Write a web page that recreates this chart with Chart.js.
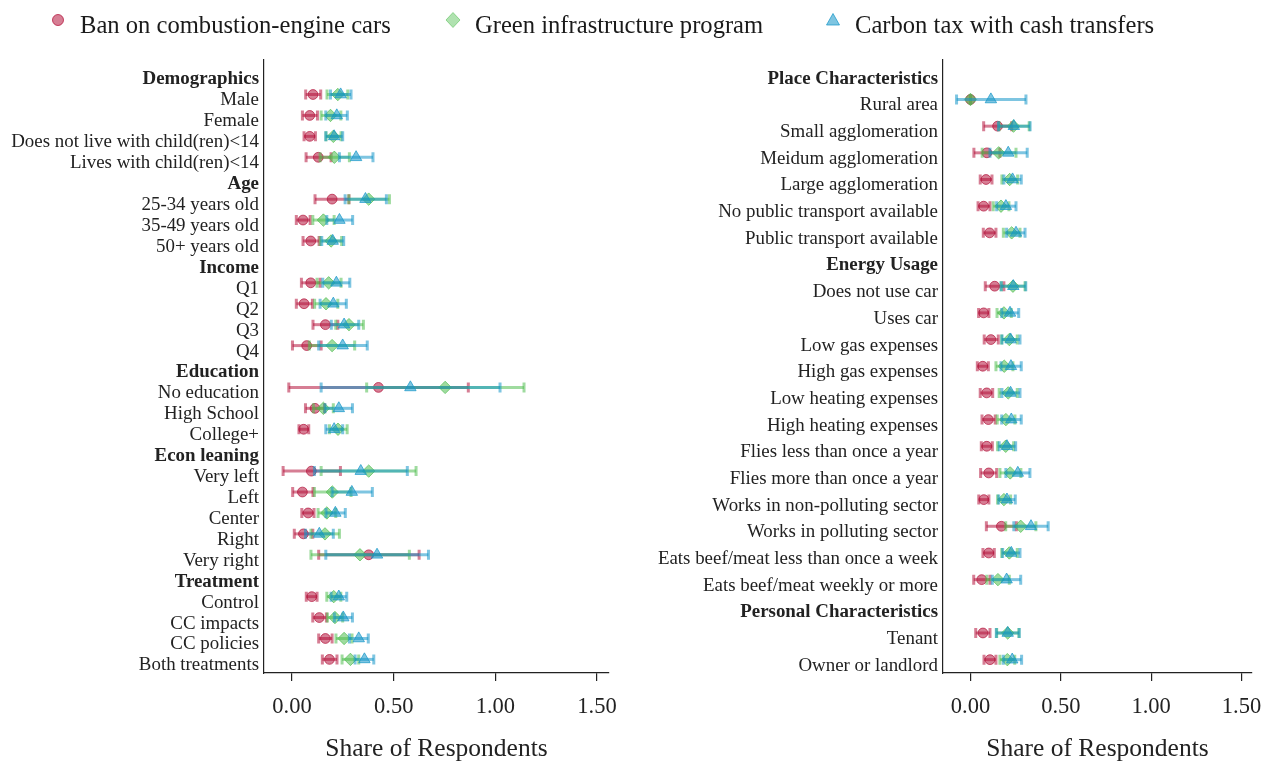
<!DOCTYPE html>
<html>
<head>
<meta charset="utf-8">
<title>Share of Respondents by group</title>
<script src="https://cdn.jsdelivr.net/npm/chart.js@4.4.1/dist/chart.umd.min.js"></script>
<style>
  html, body { margin: 0; padding: 0; background: #ffffff; }
  #figure { position: relative; width: 1262px; height: 762px; overflow: hidden; }
  .panel { position: absolute; top: 0; height: 762px; }
  #legend { position: absolute; left: 0; top: 0; width: 1262px; height: 50px; z-index: 2;
            font-family: 'Liberation Serif', 'Times New Roman', serif; font-size: 24.6px; color: #1a1a1a; }
  .key { position: absolute; top: 6px; height: 36px; }
  .key svg { position: absolute; left: 0; top: 6px; }
  .key span { position: absolute; left: 30px; top: 5px; white-space: nowrap; line-height: 28px; }
</style>
</head>
<body>
<div id="figure">
  <div id="legend"></div>
  <div class="panel" style="left:0;width:631px"><canvas id="leftChart"></canvas></div>
  <div class="panel" style="left:631px;width:660px"><canvas id="rightChart"></canvas></div>
</div>
<script>
// ---- Series ----
const seriesNames = ['Ban on combustion-engine cars', 'Green infrastructure program', 'Carbon tax with cash transfers'];

// ---- Left panel rows (headings in bold) ----
const leftRows = [
  'Demographics', 'Male', 'Female', 'Does not live with child(ren)<14', 'Lives with child(ren)<14',
  'Age', '25-34 years old', '35-49 years old', '50+ years old',
  'Income', 'Q1', 'Q2', 'Q3', 'Q4',
  'Education', 'No education', 'High School', 'College+',
  'Econ leaning', 'Very left', 'Left', 'Center', 'Right', 'Very right',
  'Treatment', 'Control', 'CC impacts', 'CC policies', 'Both treatments'
];
const leftHeadings = ['Demographics', 'Age', 'Income', 'Education', 'Econ leaning', 'Treatment'];

// [lower bound, estimate, upper bound] per row; null on heading rows
const banLeft = [
  null, [0.067, 0.103, 0.141], [0.051, 0.087, 0.125], [0.059, 0.087, 0.115], [0.069, 0.129, 0.192],
  null, [0.113, 0.197, 0.280], [0.021, 0.054, 0.089], [0.054, 0.092, 0.133],
  null, [0.046, 0.092, 0.138], [0.021, 0.059, 0.100], [0.103, 0.164, 0.225], [0.002, 0.072, 0.143],
  null, [-0.016, 0.425, 0.867], [0.066, 0.113, 0.160], [0.034, 0.057, 0.082],
  null, [-0.044, 0.095, 0.238], [0.003, 0.051, 0.103], [0.048, 0.079, 0.108], [0.011, 0.056, 0.102], [0.131, 0.377, 0.625],
  null, [0.070, 0.097, 0.123], [0.102, 0.134, 0.169], [0.131, 0.164, 0.197], [0.149, 0.184, 0.221]
];
const greenLeft = [
  null, [0.172, 0.225, 0.274], [0.143, 0.189, 0.240], [0.167, 0.203, 0.241], [0.138, 0.208, 0.282],
  null, [0.279, 0.377, 0.479], [0.102, 0.154, 0.207], [0.138, 0.192, 0.244],
  null, [0.123, 0.180, 0.241], [0.111, 0.167, 0.225], [0.215, 0.280, 0.351], [0.085, 0.197, 0.308],
  null, [0.367, 0.753, 1.141], [0.105, 0.154, 0.203], [0.184, 0.226, 0.271],
  null, [0.143, 0.377, 0.610], [0.110, 0.198, 0.290], [0.128, 0.171, 0.215], [0.093, 0.162, 0.233], [0.093, 0.334, 0.577],
  null, [0.171, 0.205, 0.240], [0.174, 0.211, 0.249], [0.216, 0.256, 0.295], [0.246, 0.287, 0.328]
];
const carbonLeft = [
  null, [0.189, 0.239, 0.290], [0.166, 0.220, 0.272], [0.166, 0.207, 0.249], [0.233, 0.315, 0.398],
  null, [0.261, 0.361, 0.464], [0.171, 0.233, 0.298], [0.146, 0.200, 0.254],
  null, [0.151, 0.218, 0.284], [0.138, 0.203, 0.267], [0.193, 0.256, 0.328], [0.131, 0.249, 0.370],
  null, [0.143, 0.582, 1.023], [0.162, 0.230, 0.297], [0.166, 0.207, 0.249],
  null, [0.110, 0.338, 0.567], [0.197, 0.294, 0.395], [0.167, 0.213, 0.262], [0.066, 0.134, 0.203], [0.166, 0.418, 0.671],
  null, [0.192, 0.230, 0.269], [0.208, 0.252, 0.297], [0.282, 0.328, 0.375], [0.310, 0.356, 0.402]
];

// ---- Right panel rows ----
const rightRows = [
  'Place Characteristics', 'Rural area', 'Small agglomeration', 'Meidum agglomeration', 'Large agglomeration',
  'No public transport available', 'Public transport available',
  'Energy Usage', 'Does not use car', 'Uses car', 'Low gas expenses', 'High gas expenses',
  'Low heating expenses', 'High heating expenses', 'Flies less than once a year', 'Flies more than once a year',
  'Works in non-polluting sector', 'Works in polluting sector',
  'Eats beef/meat less than once a week', 'Eats beef/meat weekly or more',
  'Personal Characteristics', 'Tenant', 'Owner or landlord'
];
const rightHeadings = ['Place Characteristics', 'Energy Usage', 'Personal Characteristics'];

const banRight = [
  null, [0, 0, 0], [0.073, 0.150, 0.228], [0.019, 0.091, 0.163], [0.054, 0.086, 0.119],
  [0.042, 0.073, 0.108], [0.071, 0.106, 0.141],
  null, [0.082, 0.134, 0.185], [0.045, 0.073, 0.102], [0.076, 0.113, 0.154], [0.038, 0.068, 0.099],
  [0.054, 0.090, 0.123], [0.064, 0.099, 0.137], [0.060, 0.090, 0.121], [0.056, 0.101, 0.145],
  [0.046, 0.074, 0.102], [0.088, 0.171, 0.254],
  [0.069, 0.101, 0.132], [0.018, 0.062, 0.108],
  null, [0.029, 0.069, 0.108], [0.075, 0.108, 0.141]
];
const greenRight = [
  null, [0, 0, 0], [0.158, 0.238, 0.325], [0.065, 0.156, 0.252], [0.174, 0.217, 0.261],
  [0.126, 0.169, 0.213], [0.182, 0.228, 0.274],
  null, [0.170, 0.235, 0.302], [0.147, 0.185, 0.226], [0.173, 0.215, 0.259], [0.141, 0.187, 0.235],
  [0.159, 0.209, 0.259], [0.148, 0.196, 0.246], [0.150, 0.195, 0.239], [0.163, 0.220, 0.279],
  [0.150, 0.185, 0.222], [0.195, 0.278, 0.362],
  [0.173, 0.215, 0.259], [0.090, 0.152, 0.215],
  null, [0.145, 0.206, 0.268], [0.163, 0.204, 0.245]
];
const carbonRight = [
  null, [-0.077, 0.113, 0.307], [0.155, 0.240, 0.330], [0.108, 0.209, 0.314], [0.185, 0.233, 0.281],
  [0.145, 0.196, 0.252], [0.200, 0.252, 0.302],
  null, [0.170, 0.237, 0.306], [0.173, 0.219, 0.267], [0.174, 0.222, 0.274], [0.169, 0.224, 0.281],
  [0.174, 0.222, 0.274], [0.173, 0.226, 0.281], [0.159, 0.202, 0.250], [0.196, 0.262, 0.329],
  [0.156, 0.202, 0.248], [0.240, 0.335, 0.430],
  [0.178, 0.226, 0.274], [0.121, 0.200, 0.278],
  null, [0.143, 0.206, 0.270], [0.182, 0.231, 0.283]
];

const xTickValues = [0, 0.5, 1, 1.5];

// ---- Styling ----
const FONT = "'Liberation Serif', 'Times New Roman', serif";
const INK = '#222222';
const seriesRGB = [[180, 20, 60], [80, 190, 80], [20, 150, 200]];
const markerStyles = ['circle', 'rectRot', 'triangle'];
const markerRadii = [4.9, 6.2, 6.6];
const rgba = (c, a) => `rgba(${c[0]},${c[1]},${c[2]},${a})`;

// Confidence-interval bars, drawn just beneath each series' own markers
const errorBars = {
  id: 'errorBars',
  beforeDatasetDraw(chart, args) {
    const ds = chart.data.datasets[args.index];
    const xs = chart.scales.x, ys = chart.scales.y;
    const ctx = chart.ctx;
    ctx.save();
    ctx.strokeStyle = ds.errorColor;
    ctx.lineWidth = 3;
    ctx.lineCap = 'butt';
    ds.data.forEach(d => {
      const y = ys.getPixelForValue(d.y);
      const x0 = xs.getPixelForValue(d.lo);
      const x1 = xs.getPixelForValue(d.hi);
      ctx.beginPath();
      ctx.moveTo(x0, y); ctx.lineTo(x1, y);
      ctx.stroke();
      ctx.beginPath();
      ctx.moveTo(x0, y - 5); ctx.lineTo(x0, y + 5);
      ctx.moveTo(x1, y - 5); ctx.lineTo(x1, y + 5);
      ctx.stroke();
    });
    ctx.restore();
  }
};

function makePanel(canvasId, rows, headings, seriesValues, axisWidth, rightPad, xMin, xMax, yMin, yMax) {
  const datasets = seriesValues.map((values, s) => ({
    label: seriesNames[s],
    order: seriesValues.length - s,
    data: values.map((v, i) => v ? { x: v[1], y: i, lo: v[0], hi: v[2] } : null).filter(Boolean),
    pointStyle: markerStyles[s],
    pointRadius: markerRadii[s],
    pointBackgroundColor: rgba(seriesRGB[s], 0.55),
    pointBorderColor: rgba(seriesRGB[s], 0.7),
    pointBorderWidth: 1,
    errorColor: rgba(seriesRGB[s], 0.55)
  }));

  return new Chart(document.getElementById(canvasId), {
    type: 'scatter',
    data: { datasets },
    options: {
      responsive: true,
      maintainAspectRatio: false,
      animation: false,
      events: [],
      layout: { padding: { top: 60, right: rightPad, bottom: 0, left: 0 } },
      plugins: { legend: { display: false }, tooltip: { enabled: false } },
      scales: {
        x: {
          type: 'linear', min: xMin, max: xMax, bounds: 'data',
          afterFit(scale) { scale.height = 89; },
          afterBuildTicks(scale) { scale.ticks = xTickValues.map(v => ({ value: v })); },
          grid: { display: true, drawOnChartArea: false, drawTicks: true, tickLength: 8, color: INK, lineWidth: 1.2 },
          border: { display: true, color: INK, width: 1.2 },
          ticks: { callback: v => Number(v).toFixed(2), color: INK, font: { family: FONT, size: 22.5 }, padding: 13, maxRotation: 0 },
          title: { display: true, text: 'Share of Respondents', color: INK,
                   font: { family: FONT, size: 25.5, lineHeight: 1 }, padding: { top: 0, bottom: 0 } }
        },
        y: {
          type: 'linear', reverse: true, min: yMin, max: yMax, bounds: 'data',
          afterFit(scale) { scale.width = axisWidth; },
          afterBuildTicks(scale) { scale.ticks = rows.map((_, i) => ({ value: i })); },
          grid: { display: false, drawTicks: false },
          border: { display: true, color: INK, width: 1.2 },
          ticks: {
            autoSkip: false, padding: 5, labelOffset: 6, color: INK,
            callback: v => rows[v],
            font: c => ({ family: FONT, size: 18.9, weight: headings.includes(rows[c.index]) ? 'bold' : 'normal' })
          }
        }
      }
    },
    plugins: [errorBars]
  });
}

makePanel('leftChart', leftRows, leftHeadings, [banLeft, greenLeft, carbonLeft], 264, 22, -0.138, 1.559, -0.65, 28.65);
makePanel('rightChart', rightRows, rightHeadings, [banRight, greenRight, carbonRight], 312, 39, -0.152, 1.558, -0.48, 22.5);

// ---- Legend ----
const legendLeft = [50, 445, 825];
const legendShapes = [
  c => `<circle cx="8" cy="8" r="5.5" fill="${rgba(c, 0.55)}" stroke="${rgba(c, 0.75)}" stroke-width="1"/>`,
  c => `<polygon points="8,0.5 15,8 8,15.5 1,8" fill="${rgba(c, 0.45)}" stroke="${rgba(c, 0.55)}" stroke-width="1"/>`,
  c => `<polygon points="8,1.5 14.5,13 1.5,13" fill="${rgba(c, 0.55)}" stroke="${rgba(c, 0.7)}" stroke-width="1"/>`
];
const legend = document.getElementById('legend');
seriesNames.forEach((name, s) => {
  const key = document.createElement('div');
  key.className = 'key';
  key.style.left = legendLeft[s] + 'px';
  key.innerHTML = `<svg width="16" height="16" viewBox="0 0 16 16">${legendShapes[s](seriesRGB[s])}</svg><span>${name}</span>`;
  legend.appendChild(key);
});
</script>
</body>
</html>
